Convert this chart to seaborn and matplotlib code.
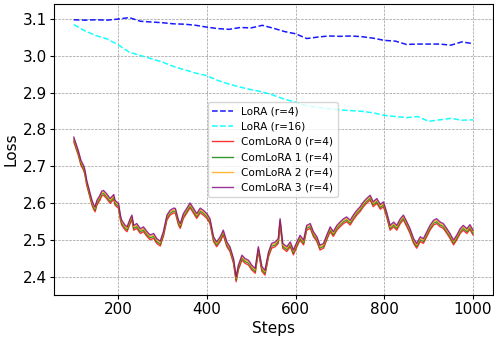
import matplotlib
matplotlib.use("Agg")
import seaborn as sns
import matplotlib.pyplot as plt

# dashed LoRA baselines
lora_steps = [100, 125, 150, 175, 200, 225, 250, 275, 300, 325, 350, 375, 400,
              425, 450, 475, 500, 525, 550, 575, 600, 625, 650, 675, 700, 725,
              750, 775, 800, 825, 850, 875, 900, 925, 950, 975, 1000]
lora_r4 = [3.098, 3.097, 3.098, 3.097, 3.100, 3.104, 3.094, 3.092, 3.090, 3.087,
           3.086, 3.083, 3.078, 3.074, 3.072, 3.077, 3.076, 3.083, 3.075, 3.066,
           3.060, 3.047, 3.051, 3.054, 3.053, 3.054, 3.052, 3.048, 3.042, 3.040,
           3.031, 3.032, 3.032, 3.032, 3.029, 3.038, 3.033]
lora_r16 = [3.085, 3.068, 3.055, 3.046, 3.030, 3.010, 3.001, 2.992, 2.983, 2.971,
            2.962, 2.953, 2.946, 2.933, 2.923, 2.915, 2.908, 2.902, 2.893, 2.882,
            2.874, 2.864, 2.860, 2.856, 2.853, 2.851, 2.849, 2.845, 2.838, 2.835,
            2.832, 2.835, 2.822, 2.826, 2.830, 2.825, 2.826]

# ComLoRA clients
com_steps = [100, 110, 116, 122, 125, 129, 133, 137, 141, 144,
             148, 152, 159, 163, 167, 174, 182, 190, 193, 201,
             205, 208, 216, 220, 227, 231, 235, 242, 250, 257,
             265, 272, 280, 287, 295, 298, 302, 310, 317, 325,
             329, 336, 340, 347, 355, 362, 370, 377, 385, 392,
             400, 407, 415, 422, 430, 437, 445, 452, 460, 466,
             471, 479, 486, 494, 501, 509, 516, 524, 531, 539,
             546, 554, 561, 565, 571, 580, 588, 595, 603, 610,
             618, 625, 633, 640, 648, 655, 663, 670, 678, 685,
             693, 700, 708, 715, 723, 730, 738, 745, 753, 760,
             768, 775, 783, 791, 798, 805, 813, 821, 828, 836,
             843, 851, 858, 866, 873, 881, 888, 896, 903, 911,
             918, 926, 933, 941, 948, 956, 963, 971, 978, 986,
             993, 1000]
com0 = [2.766, 2.730, 2.703, 2.689, 2.677, 2.649, 2.631, 2.612, 2.594, 2.585,
        2.576, 2.594, 2.608, 2.619, 2.621, 2.612, 2.599, 2.610, 2.594, 2.585,
        2.554, 2.540, 2.526, 2.522, 2.544, 2.554, 2.526, 2.531, 2.517, 2.522,
        2.509, 2.500, 2.504, 2.490, 2.483, 2.495, 2.509, 2.554, 2.567, 2.573,
        2.572, 2.540, 2.531, 2.558, 2.573, 2.587, 2.572, 2.558, 2.573, 2.567,
        2.558, 2.544, 2.495, 2.481, 2.495, 2.513, 2.481, 2.468, 2.436, 2.386,
        2.418, 2.445, 2.436, 2.431, 2.418, 2.409, 2.468, 2.414, 2.404, 2.454,
        2.477, 2.481, 2.490, 2.544, 2.477, 2.468, 2.481, 2.459, 2.481, 2.499,
        2.486, 2.526, 2.531, 2.509, 2.495, 2.472, 2.477, 2.499, 2.522, 2.509,
        2.526, 2.535, 2.544, 2.549, 2.540, 2.554, 2.567, 2.576, 2.590, 2.599,
        2.608, 2.590, 2.599, 2.583, 2.590, 2.563, 2.526, 2.535, 2.526, 2.544,
        2.554, 2.535, 2.517, 2.490, 2.477, 2.495, 2.490, 2.509, 2.526, 2.540,
        2.544, 2.535, 2.531, 2.517, 2.504, 2.486, 2.499, 2.517, 2.526, 2.517,
        2.528, 2.513]
com1 = [2.771, 2.735, 2.708, 2.694, 2.682, 2.654, 2.636, 2.617, 2.599, 2.590,
        2.581, 2.599, 2.613, 2.624, 2.626, 2.617, 2.604, 2.615, 2.599, 2.590,
        2.559, 2.545, 2.531, 2.527, 2.549, 2.559, 2.531, 2.536, 2.522, 2.527,
        2.514, 2.505, 2.509, 2.495, 2.488, 2.500, 2.514, 2.559, 2.572, 2.578,
        2.577, 2.545, 2.536, 2.563, 2.578, 2.592, 2.577, 2.563, 2.578, 2.572,
        2.563, 2.549, 2.500, 2.486, 2.500, 2.518, 2.486, 2.473, 2.441, 2.391,
        2.423, 2.450, 2.441, 2.436, 2.423, 2.414, 2.473, 2.419, 2.409, 2.459,
        2.482, 2.486, 2.495, 2.549, 2.482, 2.473, 2.486, 2.464, 2.486, 2.504,
        2.491, 2.531, 2.536, 2.514, 2.500, 2.477, 2.482, 2.504, 2.527, 2.514,
        2.531, 2.540, 2.549, 2.554, 2.545, 2.559, 2.572, 2.581, 2.595, 2.604,
        2.613, 2.595, 2.604, 2.588, 2.595, 2.568, 2.531, 2.540, 2.531, 2.549,
        2.559, 2.540, 2.522, 2.495, 2.482, 2.500, 2.495, 2.514, 2.531, 2.545,
        2.549, 2.540, 2.536, 2.522, 2.509, 2.491, 2.504, 2.522, 2.531, 2.522,
        2.533, 2.518]
com2 = [2.775, 2.739, 2.712, 2.698, 2.686, 2.658, 2.640, 2.621, 2.603, 2.594,
        2.585, 2.603, 2.617, 2.628, 2.630, 2.621, 2.608, 2.619, 2.603, 2.594,
        2.563, 2.549, 2.535, 2.531, 2.553, 2.563, 2.535, 2.540, 2.526, 2.531,
        2.518, 2.509, 2.513, 2.499, 2.492, 2.504, 2.518, 2.563, 2.576, 2.582,
        2.581, 2.549, 2.540, 2.567, 2.582, 2.596, 2.581, 2.567, 2.582, 2.576,
        2.567, 2.553, 2.504, 2.490, 2.504, 2.522, 2.490, 2.477, 2.445, 2.395,
        2.427, 2.454, 2.445, 2.440, 2.427, 2.418, 2.477, 2.423, 2.413, 2.463,
        2.486, 2.490, 2.499, 2.553, 2.486, 2.477, 2.490, 2.468, 2.490, 2.508,
        2.495, 2.535, 2.540, 2.518, 2.504, 2.481, 2.486, 2.508, 2.531, 2.518,
        2.535, 2.544, 2.553, 2.558, 2.549, 2.563, 2.576, 2.585, 2.599, 2.608,
        2.617, 2.599, 2.608, 2.592, 2.599, 2.572, 2.535, 2.544, 2.535, 2.553,
        2.563, 2.544, 2.526, 2.499, 2.486, 2.504, 2.499, 2.518, 2.535, 2.549,
        2.553, 2.544, 2.540, 2.526, 2.513, 2.495, 2.508, 2.526, 2.535, 2.526,
        2.537, 2.522]
com3 = [2.779, 2.743, 2.716, 2.702, 2.690, 2.662, 2.644, 2.625, 2.607, 2.598,
        2.589, 2.607, 2.621, 2.632, 2.634, 2.625, 2.612, 2.623, 2.607, 2.598,
        2.567, 2.553, 2.539, 2.535, 2.557, 2.567, 2.539, 2.544, 2.530, 2.535,
        2.522, 2.513, 2.517, 2.503, 2.496, 2.508, 2.522, 2.567, 2.580, 2.586,
        2.585, 2.553, 2.544, 2.571, 2.586, 2.600, 2.585, 2.571, 2.586, 2.580,
        2.571, 2.557, 2.508, 2.494, 2.508, 2.526, 2.494, 2.481, 2.449, 2.399,
        2.431, 2.458, 2.449, 2.444, 2.431, 2.422, 2.481, 2.427, 2.417, 2.467,
        2.490, 2.494, 2.503, 2.557, 2.490, 2.481, 2.494, 2.472, 2.494, 2.512,
        2.499, 2.539, 2.544, 2.522, 2.508, 2.485, 2.490, 2.512, 2.535, 2.522,
        2.539, 2.548, 2.557, 2.562, 2.553, 2.567, 2.580, 2.589, 2.603, 2.612,
        2.621, 2.603, 2.612, 2.596, 2.603, 2.576, 2.539, 2.548, 2.539, 2.557,
        2.567, 2.548, 2.530, 2.503, 2.490, 2.508, 2.503, 2.522, 2.539, 2.553,
        2.557, 2.548, 2.544, 2.530, 2.517, 2.499, 2.512, 2.530, 2.539, 2.530,
        2.541, 2.526]

fig, ax = plt.subplots(figsize=(4.94, 3.37), dpi=100)
fig.subplots_adjust(left=0.109, right=0.998, top=0.987, bottom=0.125)

sns.lineplot(x=lora_steps, y=lora_r4, color="blue", linestyle="--",
             linewidth=1.1, alpha=0.9, label="LoRA (r=4)", ax=ax)
sns.lineplot(x=lora_steps, y=lora_r16, color="cyan", linestyle="--",
             linewidth=1.1, alpha=0.9, label="LoRA (r=16)", ax=ax)

com_series = [com0, com1, com2, com3]
com_colors = ["red", "green", "orange", "purple"]
for i, (vals, c) in enumerate(zip(com_series, com_colors)):
    sns.lineplot(x=com_steps, y=vals, color=c, linewidth=1.0, alpha=0.8,
                 label=f"ComLoRA {i} (r=4)", ax=ax)

ax.grid(True, linestyle="--", color="gray", linewidth=0.5, alpha=0.8)
ax.set_xlabel("Steps", fontsize=11, labelpad=3)
ax.set_ylabel("Loss", fontsize=11, labelpad=3)
ax.tick_params(labelsize=11, length=3, pad=2)
ax.set_xticks([200, 400, 600, 800, 1000])
ax.legend(loc="center", bbox_to_anchor=(0.498, 0.50), fontsize=7.6)

fig.savefig("out.png", dpi=100)
